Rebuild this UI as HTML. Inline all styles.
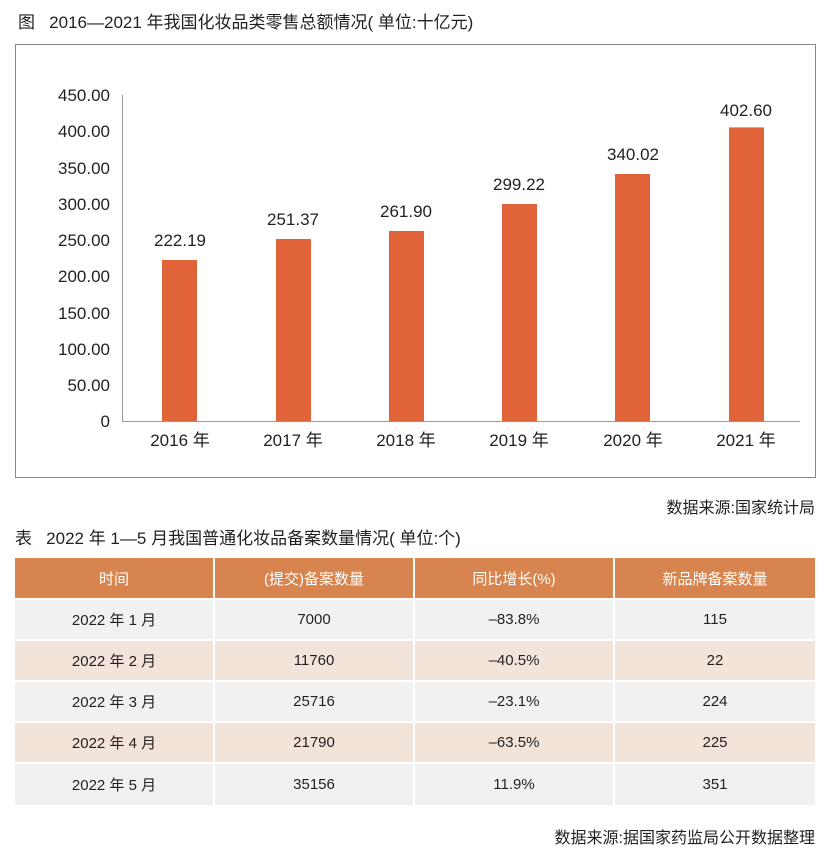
<!DOCTYPE html>
<html><head><meta charset="utf-8"><style>
body{margin:0;width:835px;height:858px;background:#fff;font-family:"Liberation Sans","Noto Sans CJK SC",sans-serif;color:#231f20;position:relative;overflow:hidden}
.t{position:absolute;white-space:nowrap}
.c{position:absolute;display:flex;align-items:center;justify-content:center;font-size:15px;width:198px}
</style></head><body>
<div class="t" style="left:18px;top:8px;font-size:17px">图&nbsp;&nbsp;&nbsp;2016—2021 年我国化妆品类零售总额情况( 单位:十亿元)</div>
<svg style="position:absolute;left:0;top:0" width="835" height="500">
<rect x="15.5" y="44.5" width="800" height="433" fill="none" stroke="#888" stroke-width="1"/>
<g stroke="#999" stroke-width="1" fill="none">
<line x1="122.5" y1="95" x2="122.5" y2="421"/>
<line x1="122" y1="421.5" x2="800" y2="421.5"/>
</g>
<g font-family="Liberation Sans,sans-serif" font-size="17" fill="#231f20" text-anchor="end">
<text x="110" y="101">450.00</text><text x="110" y="137">400.00</text><text x="110" y="174">350.00</text><text x="110" y="210">300.00</text><text x="110" y="246">250.00</text><text x="110" y="282">200.00</text><text x="110" y="319">150.00</text><text x="110" y="355">100.00</text><text x="110" y="391">50.00</text><text x="110" y="427">0</text>
</g>
<g fill="#e0633a">
<rect x="162" y="260" width="35" height="161"/>
<rect x="276" y="239" width="35" height="182"/>
<rect x="389" y="231" width="35" height="190"/>
<rect x="502" y="204" width="35" height="217"/>
<rect x="615" y="174" width="35" height="247"/>
<rect x="729" y="127.4" width="35" height="293.6"/>
</g>
<g font-family="Liberation Sans,Noto Sans CJK SC,sans-serif" font-size="17" fill="#231f20" text-anchor="middle">
<text x="180" y="246">222.19</text><text x="293" y="225">251.37</text><text x="406" y="217">261.90</text><text x="519" y="190">299.22</text><text x="633" y="160">340.02</text><text x="746" y="116">402.60</text>
<text x="180" y="446">2016 年</text><text x="293" y="446">2017 年</text><text x="406" y="446">2018 年</text><text x="519" y="446">2019 年</text><text x="633" y="446">2020 年</text><text x="746" y="446">2021 年</text>
</g>
</svg>
<div class="t" style="right:20px;top:494px;font-size:16px">数据来源:国家统计局</div>
<div class="t" style="left:15px;top:524px;font-size:17px">表&nbsp;&nbsp;&nbsp;2022 年 1—5 月我国普通化妆品备案数量情况( 单位:个)</div>
<div style="position:absolute;left:15px;top:558px">
<div class="c" style="left:0;top:0;height:40px;background:#d8844f;color:#fff">时间</div>
<div class="c" style="left:200px;top:0;height:40px;background:#d8844f;color:#fff">(提交)备案数量</div>
<div class="c" style="left:400px;top:0;height:40px;background:#d8844f;color:#fff">同比增长(%)</div>
<div class="c" style="left:600px;top:0;height:40px;background:#d8844f;color:#fff;width:200px">新品牌备案数量</div>

<div class="c" style="left:0;top:42px;height:39px;background:#f1f1f1">2022 年 1 月</div>
<div class="c" style="left:200px;top:42px;height:39px;background:#f1f1f1">7000</div>
<div class="c" style="left:400px;top:42px;height:39px;background:#f1f1f1">–83.8%</div>
<div class="c" style="left:600px;top:42px;height:39px;background:#f1f1f1;width:200px">115</div>

<div class="c" style="left:0;top:83px;height:39px;background:#f3e4d9">2022 年 2 月</div>
<div class="c" style="left:200px;top:83px;height:39px;background:#f3e4d9">11760</div>
<div class="c" style="left:400px;top:83px;height:39px;background:#f3e4d9">–40.5%</div>
<div class="c" style="left:600px;top:83px;height:39px;background:#f3e4d9;width:200px">22</div>

<div class="c" style="left:0;top:124px;height:39px;background:#f1f1f1">2022 年 3 月</div>
<div class="c" style="left:200px;top:124px;height:39px;background:#f1f1f1">25716</div>
<div class="c" style="left:400px;top:124px;height:39px;background:#f1f1f1">–23.1%</div>
<div class="c" style="left:600px;top:124px;height:39px;background:#f1f1f1;width:200px">224</div>

<div class="c" style="left:0;top:165px;height:39px;background:#f3e4d9">2022 年 4 月</div>
<div class="c" style="left:200px;top:165px;height:39px;background:#f3e4d9">21790</div>
<div class="c" style="left:400px;top:165px;height:39px;background:#f3e4d9">–63.5%</div>
<div class="c" style="left:600px;top:165px;height:39px;background:#f3e4d9;width:200px">225</div>

<div class="c" style="left:0;top:206px;height:41px;background:#f1f1f1">2022 年 5 月</div>
<div class="c" style="left:200px;top:206px;height:41px;background:#f1f1f1">35156</div>
<div class="c" style="left:400px;top:206px;height:41px;background:#f1f1f1">11.9%</div>
<div class="c" style="left:600px;top:206px;height:41px;background:#f1f1f1;width:200px">351</div>
</div>
<div class="t" style="right:20px;top:824px;font-size:16px">数据来源:据国家药监局公开数据整理</div>
</body></html>
